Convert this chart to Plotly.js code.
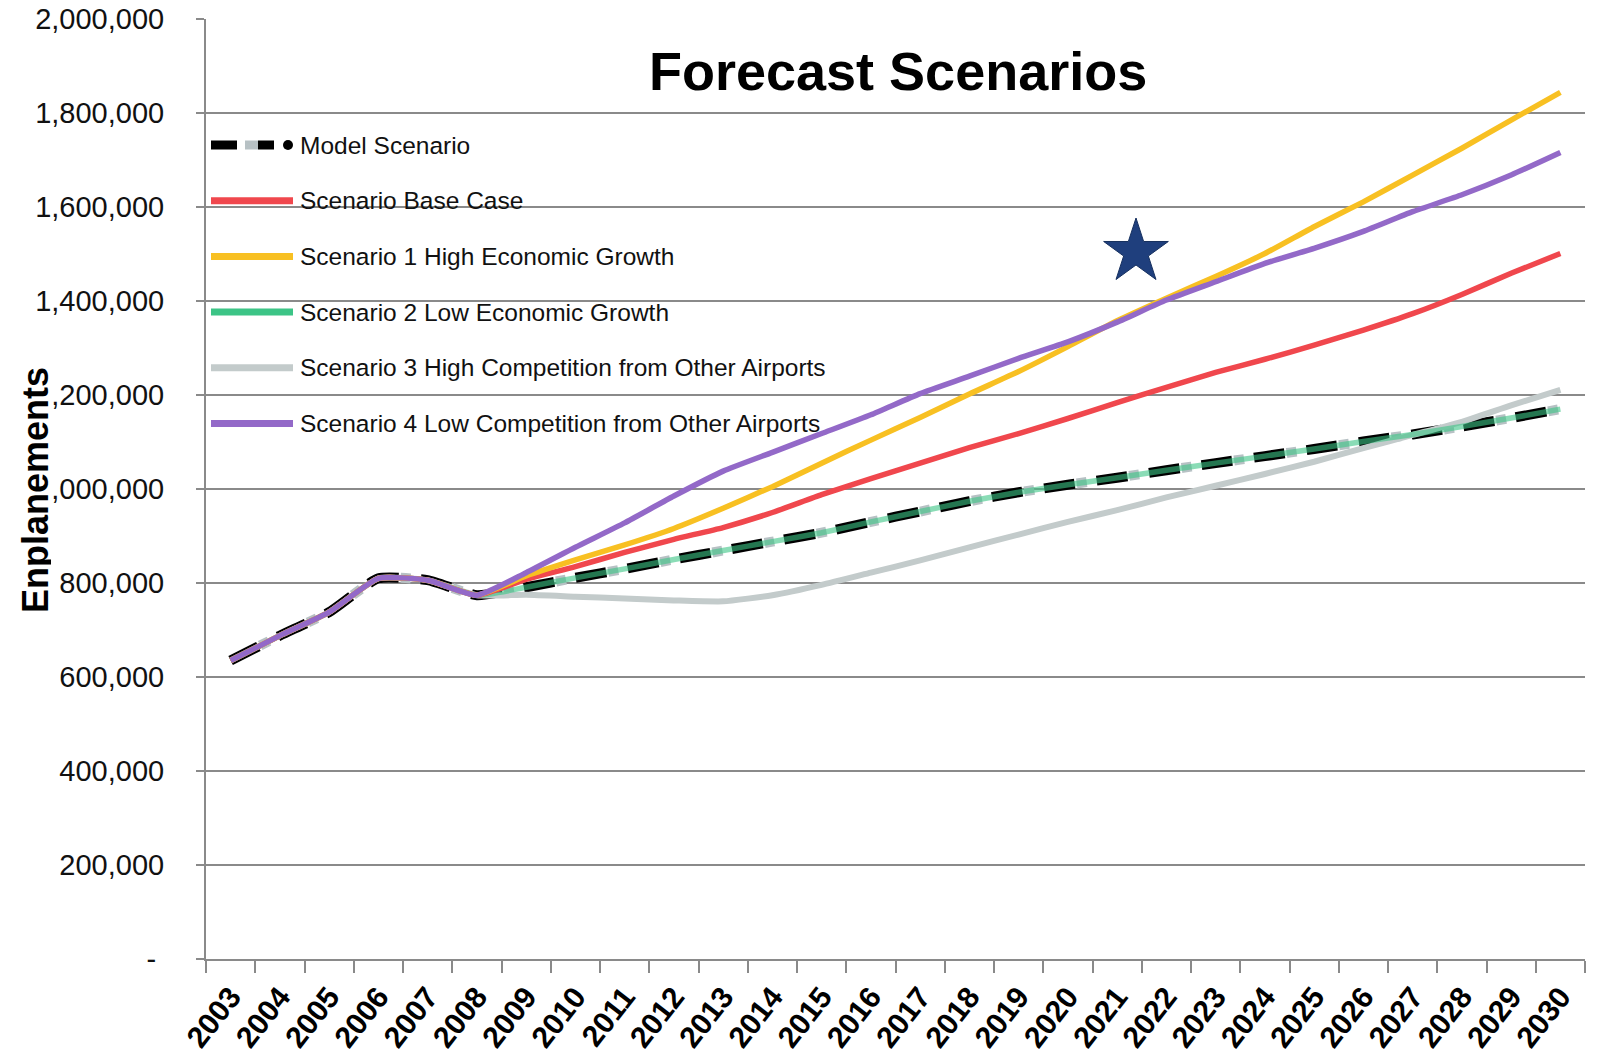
<!DOCTYPE html>
<html><head><meta charset="utf-8">
<script src="https://cdn.plot.ly/plotly-3.0.1.min.js"></script>
<style>html,body{margin:0;padding:0;background:#fff;} #chart{width:1599px;height:1058px;}</style>
</head><body><div id="chart"></div>
<script>
// ---- data ----
const years = ['2003','2004','2005','2006','2007','2008','2009','2010','2011','2012','2013','2014','2015','2016','2017','2018','2019','2020','2021','2022','2023','2024','2025','2026','2027','2028','2029','2030'];
// actuals 2003-2008 (shared by all scenarios)
const historical = [635000, 688000, 738000, 810000, 806000, 774000];
// forecasts 2009-2030
const modelScenario   = [791000, 811000, 830000, 850000, 869000, 888000, 907000, 930000, 952000, 974000, 993000, 1009000, 1024000, 1040000, 1055000, 1070000, 1085000, 1101000, 1116000, 1133000, 1151000, 1170000];
const baseCase        = [808000, 835000, 865000, 893000, 918000, 950000, 988000, 1022000, 1055000, 1088000, 1118000, 1150000, 1184000, 1216000, 1248000, 1276000, 1306000, 1338000, 1373000, 1414000, 1459000, 1501000];
const highEconomic    = [815000, 849000, 881000, 916000, 959000, 1005000, 1055000, 1104000, 1152000, 1202000, 1250000, 1303000, 1358000, 1406000, 1452000, 1501000, 1558000, 1611000, 1668000, 1725000, 1785000, 1844000];
const lowEconomic     = [791000, 811000, 830000, 850000, 869000, 888000, 907000, 930000, 952000, 974000, 993000, 1009000, 1024000, 1040000, 1055000, 1070000, 1085000, 1101000, 1116000, 1133000, 1151000, 1170000];
const highCompetition = [775000, 771000, 767000, 763000, 761000, 774000, 796000, 822000, 848000, 876000, 903000, 930000, 955000, 982000, 1007000, 1032000, 1058000, 1087000, 1115000, 1143000, 1178000, 1211000];
const lowCompetition  = [822000, 876000, 928000, 985000, 1038000, 1078000, 1118000, 1158000, 1203000, 1240000, 1278000, 1313000, 1355000, 1402000, 1441000, 1480000, 1512000, 1548000, 1590000, 1626000, 1668000, 1716000];
const seriesNames = ['Model Scenario','Scenario Base Case','Scenario 1 High Economic Growth','Scenario 2 Low Economic Growth','Scenario 3 High Competition from Other Airports','Scenario 4 Low Competition from Other Airports'];
const yTickVals = [0, 200000, 400000, 600000, 800000, 1000000, 1200000, 1400000, 1600000, 1800000, 2000000];
const yTickText = ['-\u00a0', '200,000', '400,000', '600,000', '800,000', '1,000,000', '1,200,000', '1,400,000', '1,600,000', '1,800,000', '2,000,000'];
const chartTitle = 'Forecast Scenarios';
const yTitle = 'Enplanements';

// ---- styling ----
const FONT = 'Liberation Sans, Arial, sans-serif';
const C = {model:'#000000', modelGray:'#b7c1c4', base:'#f0474d', high:'#f8c022', low:'#3cc486', highComp:'#c3cbcb', lowComp:'#9369c8'};
const full = a => historical.concat(a);
const sm = 0.5;

const traces = [
  {name: seriesNames[0], x: years, y: full(modelScenario), mode:'lines', line:{color:C.modelGray, width:10, dash:'0px,33px,10px,10px', shape:'spline', smoothing:sm}, hoverinfo:'skip'},
  {name: seriesNames[0], x: years, y: full(modelScenario), mode:'lines', line:{color:C.model, width:10, dash:'31px,22px', shape:'spline', smoothing:sm}},
  {name: seriesNames[4], x: years, y: full(highCompetition), mode:'lines', line:{color:C.highComp, width:6, shape:'spline', smoothing:sm}},
  {name: seriesNames[3], x: years, y: full(lowEconomic), mode:'lines', opacity:0.6, line:{color:C.low, width:5.5, shape:'spline', smoothing:sm}},
  {name: seriesNames[1], x: years, y: full(baseCase), mode:'lines', line:{color:C.base, width:5.5, shape:'spline', smoothing:sm}},
  {name: seriesNames[2], x: years, y: full(highEconomic), mode:'lines', line:{color:C.high, width:5.5, shape:'spline', smoothing:sm}},
  {name: seriesNames[5], x: years, y: full(lowCompetition), mode:'lines', line:{color:C.lowComp, width:5.5, shape:'spline', smoothing:sm}}
];

// plot-area pixel frame
const L = 206, R = 1585, T = 19, B = 959;
const px2x = p => (p - L) / (R - L);
const py2y = p => (B - p) / (B - T);

// manual legend
const rows = [145, 200.7, 256.4, 312.1, 367.8, 423.5];
const swColors = [null, C.base, C.high, C.low, C.highComp, C.lowComp];
const shapes = [];
const annotations = [];
const sx0 = 211, sx1 = 293;
rows.forEach((py, i) => {
  const yy = py2y(py);
  if (i === 0) {
    shapes.push({type:'line', xref:'paper', yref:'paper', x0:px2x(211), x1:px2x(237), y0:yy, y1:yy, line:{color:'#000', width:9}});
    shapes.push({type:'line', xref:'paper', yref:'paper', x0:px2x(245), x1:px2x(258), y0:yy, y1:yy, line:{color:C.modelGray, width:9}});
    shapes.push({type:'line', xref:'paper', yref:'paper', x0:px2x(258), x1:px2x(274), y0:yy, y1:yy, line:{color:'#000', width:9}});
    shapes.push({type:'circle', xref:'paper', yref:'paper', x0:px2x(283), x1:px2x(293), y0:py2y(py+5), y1:py2y(py-5), fillcolor:'#000', line:{color:'#000', width:0}});
  } else {
    shapes.push({type:'line', xref:'paper', yref:'paper', x0:px2x(sx0), x1:px2x(sx1), y0:yy, y1:yy, line:{color:swColors[i], width:7}});
  }
  annotations.push({xref:'paper', yref:'paper', x:px2x(298), y:yy, xanchor:'left', yanchor:'middle', showarrow:false, text:seriesNames[i], font:{family:FONT, size:24.5, color:'#111'}});
});

// star marker (decoration)
const starR = 34, starr = 34 * 0.382;
let sp = '';
for (let k = 0; k < 10; k++) {
  const ang = Math.PI / 2 + k * Math.PI / 5;
  const rr = (k % 2 === 0) ? starR : starr;
  sp += (k === 0 ? 'M' : 'L') + (rr * Math.cos(ang)).toFixed(2) + ',' + (rr * Math.sin(ang)).toFixed(2) + ' ';
}
sp += 'Z';
shapes.push({type:'path', xref:'paper', yref:'paper', xsizemode:'pixel', ysizemode:'pixel', xanchor:px2x(1136), yanchor:py2y(252), path:sp, fillcolor:'#1f3f7d', line:{color:'#16305f', width:1}});

// titles
annotations.push({xref:'paper', yref:'paper', x:px2x(898), y:py2y(71), xanchor:'center', yanchor:'middle', showarrow:false, text:chartTitle, font:{family:FONT, size:54, weight:'bold', color:'#000'}});
annotations.push({xref:'paper', yref:'paper', x:px2x(35), y:py2y(490), xanchor:'center', yanchor:'middle', showarrow:false, textangle:-90, text:yTitle, bgcolor:'#ffffff', borderpad:0, height:32, font:{family:FONT, size:36, weight:'bold', color:'#000'}});

const layout = {
  width:1599, height:1058,
  margin:{l:L, r:1599-R, t:T, b:1058-B, pad:0},
  paper_bgcolor:'#ffffff', plot_bgcolor:'#ffffff',
  showlegend:false,
  font:{family:FONT, color:'#000'},
  xaxis:{type:'category', tickson:'boundaries', ticks:'outside', ticklen:12, tickwidth:2, tickcolor:'#8a8a8a',
         showline:true, linecolor:'#8a8a8a', linewidth:2, showgrid:false, zeroline:false,
         tickangle:-52, ticklabelstandoff:6, tickfont:{family:FONT, size:30, weight:'bold', color:'#000'}, range:[-0.5, 27.5], fixedrange:true},
  yaxis:{range:[0, 2000000], tickvals:yTickVals, ticktext:yTickText, ticks:'outside', ticklen:8, tickwidth:2, tickcolor:'#8a8a8a',
         showline:true, linecolor:'#8a8a8a', linewidth:2, showgrid:true, gridcolor:'#8a8a8a', gridwidth:2, zeroline:false,
         tickfont:{family:FONT, size:29, color:'#111'}, ticklabelstandoff:26, fixedrange:true},
  shapes:shapes, annotations:annotations
};

Plotly.newPlot('chart', traces, layout, {displayModeBar:false, staticPlot:true});
</script>
</body></html>
